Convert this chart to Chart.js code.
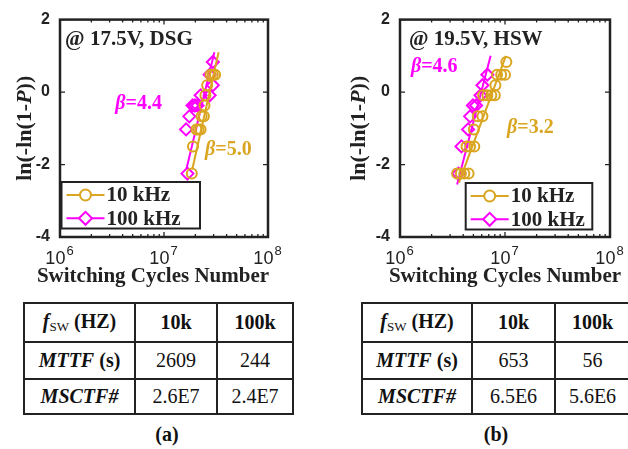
<!DOCTYPE html>
<html>
<head>
<meta charset="utf-8">
<script src="https://cdn.jsdelivr.net/npm/chart.js@4.4.0/dist/chart.umd.min.js"></script>
<style>
body { margin: 0; background: #fff; width: 628px; height: 449px; position: relative; overflow: hidden; font-family: "Liberation Serif", serif; color: #111; }
.plot { position: absolute; top: 0; width: 314px; height: 290px; }
table { position: absolute; top: 302px; border-collapse: collapse; font-size: 20px; table-layout: fixed; }
td { border: 2px solid #222; text-align: center; padding: 0; white-space: nowrap; }
tr.r1 td { height: 37px; }
tr.r2 td { height: 35px; }
tr.r3 td { height: 33px; }
.b { font-weight: bold; }
.bi { font-weight: bold; font-style: italic; }
sub { font-size: 13px; font-weight: normal; vertical-align: -3px; }
.cap { position: absolute; top: 423px; width: 60px; text-align: center; font-weight: bold; font-size: 20px; }
</style>
</head>
<body>
<div class="plot" style="left:0"><canvas id="chartA" width="314" height="290"></canvas></div>
<div class="plot" style="left:314px"><canvas id="chartB" width="314" height="290"></canvas></div>

<table id="tableA" style="left:23px; width:269px"></table>
<table id="tableB" style="left:361px; width:268px"></table>
<div class="cap" style="left:137px">(a)</div>
<div class="cap" style="left:466px">(b)</div>

<script>
// axis ticks
const xTicks = [1e6, 1e7, 1e8];
const yTicks = [-4, -2, 0, 2];
const seriesNames = ['10 kHz', '100 kHz'];

// (a) 17.5V, DSG  -- switching cycles vs ln(-ln(1-P))
const dsg10kX = [1.85e7, 1.9e7, 2.05e7, 2.15e7, 2.25e7, 2.3e7, 2.42e7, 2.45e7, 2.5e7, 2.6e7, 2.8e7, 2.95e7, 3.1e7];
const dsg10kY = [-2.25, -1.5, -1.03, -1.03, -1.03, -0.67, -0.67, -0.37, -0.09, 0.19, 0.48, 0.48, 0.48];
const dsg100kX = [1.68e7, 1.63e7, 1.75e7, 1.88e7, 1.98e7, 2.1e7, 2.25e7, 2.75e7, 2.95e7, 2.75e7, 2.95e7];
const dsg100kY = [-2.25, -1.03, -0.67, -0.37, -0.37, -0.37, -0.09, -0.09, 0.19, 0.48, 0.83];
const dsg10kFitX = [1.88e7, 3.35e7];
const dsg10kFitY = [-2.1, 1.1];
const dsg100kFitX = [1.65e7, 3.05e7];
const dsg100kFitY = [-2.1, 1.1];

// (b) 19.5V, HSW
const hsw10kX = [3.5e6, 3.8e6, 4.1e6, 4.5e6, 4.3e6, 4.65e6, 5.1e6, 5.05e6, 5.5e6, 6.1e6, 6.2e6, 6.8e6, 7.4e6, 8.0e6, 8.1e6, 8.4e6, 9.2e6, 1.0e7, 1.03e7];
const hsw10kY = [-2.25, -2.25, -2.25, -2.25, -1.5, -1.5, -1.5, -1.03, -0.67, -0.67, -0.09, -0.09, -0.09, -0.09, 0.19, 0.48, 0.48, 0.48, 0.83];
const hsw100kX = [3.6e6, 3.85e6, 4.45e6, 4.65e6, 4.95e6, 5.3e6, 5.85e6, 6.1e6, 6.8e6];
const hsw100kY = [-2.25, -1.5, -1.03, -0.67, -0.37, -0.37, -0.09, 0.19, 0.48];
const hsw10kFitX = [3.64e6, 1.02e7];
const hsw10kFitY = [-2.5, 1.0];
const hsw100kFitX = [3.5e6, 7.3e6];
const hsw100kFitY = [-2.55, 1.0];

// tables
const freqCols = ['10k', '100k'];
const mttfA = ['2609', '244'];
const msctfA = ['2.6E7', '2.4E7'];
const mttfB = ['653', '56'];
const msctfB = ['6.5E6', '5.6E6'];

const GOLD = 'rgb(218,165,32)';
const MAGENTA = 'rgb(255,0,255)';
const INK = '#222';

function toPts(xs, ys) {
    return xs.map((x, i) => ({ x: x, y: ys[i] }));
}

function markerSet(label, xs, ys, color, style, r) {
    return {
        label: label, data: toPts(xs, ys), showLine: false,
        pointStyle: style, pointRadius: r, pointBorderWidth: 2,
        borderColor: color, backgroundColor: 'rgba(0,0,0,0)'
    };
}

function fitSet(xs, ys, color) {
    return {
        label: 'fit', data: toPts(xs, ys), showLine: true,
        pointRadius: 0, borderColor: color, borderWidth: 2
    };
}

function partsWidth(ctx, parts) {
    let w = 0;
    parts.forEach(p => { ctx.font = p[1]; w += ctx.measureText(p[0]).width; });
    return w;
}

function makeFramePlugin(o) {
    return {
        id: 'frame',
        afterDatasetsDraw(chart) {
            const ctx = chart.ctx;
            const a = chart.chartArea;
            const sx = chart.scales.x;
            const sy = chart.scales.y;
            ctx.save();
            ctx.strokeStyle = INK;
            ctx.lineWidth = 1.3;
            ctx.beginPath();
            yTicks.forEach(v => {
                const py = sy.getPixelForValue(v);
                ctx.moveTo(a.left, py); ctx.lineTo(a.left + 5, py);
                ctx.moveTo(a.right, py); ctx.lineTo(a.right - 5, py);
            });
            for (let e = 6; e < 8; e++) {
                for (let m = 1; m < 10; m++) {
                    const px = sx.getPixelForValue(m * Math.pow(10, e));
                    const len = m === 1 ? 5 : 3;
                    ctx.moveTo(px, a.bottom); ctx.lineTo(px, a.bottom - len);
                    ctx.moveTo(px, a.top); ctx.lineTo(px, a.top + len);
                }
            }
            ctx.stroke();
            ctx.lineWidth = 2.5;
            ctx.strokeRect(a.left, a.top, a.right - a.left, a.bottom - a.top);

            // x tick labels 10^n
            ctx.fillStyle = INK;
            ctx.textBaseline = 'alphabetic';
            ctx.textAlign = 'left';
            xTicks.forEach(v => {
                const px = sx.getPixelForValue(v);
                const ex = String(Math.round(Math.log10(v)));
                ctx.font = '18px "Liberation Sans"';
                const w1 = ctx.measureText('10').width;
                ctx.font = '13px "Liberation Sans"';
                const w2 = ctx.measureText(ex).width;
                const x0 = px - (w1 + w2) / 2 - 1;
                ctx.font = '18px "Liberation Sans"';
                ctx.fillText('10', x0, a.bottom + 27);
                ctx.font = '13px "Liberation Sans"';
                ctx.fillText(ex, x0 + w1 + 1, a.bottom + 18);
            });

            // axis titles
            ctx.font = 'bold 21px "Liberation Serif"';
            ctx.textAlign = 'center';
            ctx.textBaseline = 'middle';
            ctx.fillText('Switching Cycles Number', (a.left + a.right) / 2 + o.xTitleShift, a.bottom + 40);

            const yParts = [['ln(-ln(1-', 'bold 22px "Liberation Serif"'], ['P', 'bold italic 22px "Liberation Serif"'], ['))', 'bold 22px "Liberation Serif"']];
            const yw = partsWidth(ctx, yParts);
            ctx.save();
            ctx.translate(a.left - o.yTitleGap, (a.top + a.bottom) / 2);
            ctx.rotate(-Math.PI / 2);
            ctx.textAlign = 'left';
            let cx = -yw / 2;
            yParts.forEach(p => { ctx.font = p[1]; ctx.fillText(p[0], cx, 0); cx += ctx.measureText(p[0]).width; });
            ctx.restore();

            // annotations at data coordinates
            ctx.textAlign = 'left';
            ctx.textBaseline = 'middle';
            o.notes.forEach(n => {
                let px = sx.getPixelForValue(n.x);
                const py = sy.getPixelForValue(n.y);
                ctx.fillStyle = n.color;
                if (n.beta) {
                    ctx.font = 'bold italic 20px "Liberation Serif"';
                    ctx.fillText('\u03B2', px, py);
                    px += ctx.measureText('\u03B2').width;
                    ctx.font = 'bold 20px "Liberation Serif"';
                    ctx.fillText('=' + n.text, px, py);
                } else {
                    ctx.font = 'bold 21px "Liberation Serif"';
                    ctx.fillText(n.text, px, py);
                }
            });

            // legend box
            const L = o.legend;
            ctx.fillStyle = '#fff';
            ctx.fillRect(L.left, L.top, L.width, L.height);
            ctx.strokeStyle = INK;
            ctx.lineWidth = 2;
            ctx.strokeRect(L.left, L.top, L.width, L.height);
            const legendStyles = [[GOLD, 'circle', 5.5], [MAGENTA, 'rectRot', 6.5]];
            seriesNames.forEach((name, i) => {
                const cy = L.top + 13 + i * 23.3;
                const st = legendStyles[i];
                ctx.strokeStyle = st[0];
                ctx.lineWidth = 2;
                ctx.beginPath();
                ctx.moveTo(L.left + 5, cy); ctx.lineTo(L.left + 43, cy);
                ctx.stroke();
                ctx.fillStyle = '#fff';
                Chart.helpers.drawPoint(ctx, { pointStyle: st[1], radius: st[2], borderWidth: 2, rotation: 0 }, L.left + 24, cy);
                ctx.fillStyle = INK;
                ctx.font = 'bold 21px "Liberation Serif"';
                ctx.textBaseline = 'middle';
                ctx.fillText(name, L.left + 45, cy + 1);
            });
            ctx.restore();
        }
    };
}

function makeChart(canvasId, datasets, padRight, yWidth, frameOpts) {
    const ctx = document.getElementById(canvasId).getContext('2d');
    return new Chart(ctx, {
        type: 'scatter',
        data: { datasets: datasets },
        options: {
            responsive: false,
            animation: false,
            devicePixelRatio: 1,
            layout: { padding: { top: 13, right: padRight, left: 0, bottom: 0 } },
            plugins: { legend: { display: false }, tooltip: { enabled: false } },
            scales: {
                x: {
                    type: 'logarithmic', min: 1e6, max: 1e8,
                    grid: { display: false }, border: { display: false },
                    ticks: { display: false },
                    afterFit: s => { s.height = 53; }
                },
                y: {
                    min: -4, max: 2,
                    grid: { display: false, drawTicks: false }, border: { display: false },
                    ticks: { stepSize: 2, padding: 10, color: INK, font: { family: '"Liberation Sans"', size: 16, weight: 'bold' } },
                    afterFit: s => { s.width = yWidth; }
                }
            }
        },
        plugins: [makeFramePlugin(frameOpts)]
    });
}

makeChart('chartA', [
    markerSet(seriesNames[0], dsg10kX, dsg10kY, GOLD, 'circle', 5),
    fitSet(dsg10kFitX, dsg10kFitY, GOLD),
    markerSet(seriesNames[1], dsg100kX, dsg100kY, MAGENTA, 'rectRot', 6),
    fitSet(dsg100kFitX, dsg100kFitY, MAGENTA)
], 46, 60, {
    xTitleShift: -11, yTitleGap: 35,
    notes: [
        { text: '@ 17.5V, DSG', x: 1.12e6, y: 1.46, color: INK },
        { text: '4.4', beta: true, x: 3.4e6, y: -0.33, color: MAGENTA },
        { text: '5.0', beta: true, x: 2.48e7, y: -1.59, color: GOLD }
    ],
    legend: { left: 61.5, top: 182, width: 138.5, height: 46.5 }
});

makeChart('chartB', [
    markerSet(seriesNames[0], hsw10kX, hsw10kY, GOLD, 'circle', 5),
    fitSet(hsw10kFitX, hsw10kFitY, GOLD),
    markerSet(seriesNames[1], hsw100kX, hsw100kY, MAGENTA, 'rectRot', 6),
    fitSet(hsw100kFitX, hsw100kFitY, MAGENTA)
], 18, 86, {
    xTitleShift: 0, yTitleGap: 41,
    notes: [
        { text: '@ 19.5V, HSW', x: 1.22e6, y: 1.46, color: INK },
        { text: '4.6', beta: true, x: 1.27e6, y: 0.69, color: MAGENTA },
        { text: '3.2', beta: true, x: 1.045e7, y: -1.0, color: GOLD }
    ],
    legend: { left: 151.7, top: 183, width: 126.6, height: 46.5 }
});

function fillTable(id, mttf, msctf, widths) {
    const t = document.getElementById(id);
    const cg = '<colgroup>' + widths.map(w => '<col style="width:' + w + 'px">').join('') + '</colgroup>';
    const r1 = '<tr class="r1"><td><span class="bi">f</span><sub>SW</sub><span class="b"> (HZ)</span></td>' +
        freqCols.map(f => '<td class="b">' + f + '</td>').join('') + '</tr>';
    const r2 = '<tr class="r2"><td><span class="bi">MTTF</span><span class="b"> (s)</span></td>' +
        mttf.map(v => '<td>' + v + '</td>').join('') + '</tr>';
    const r3 = '<tr class="r3"><td><span class="bi">MSCTF#</span></td>' +
        msctf.map(v => '<td>' + v + '</td>').join('') + '</tr>';
    t.innerHTML = cg + r1 + r2 + r3;
}

fillTable('tableA', mttfA, msctfA, [111, 82, 76]);
fillTable('tableB', mttfB, msctfB, [110, 83, 75]);
</script>
</body>
</html>
